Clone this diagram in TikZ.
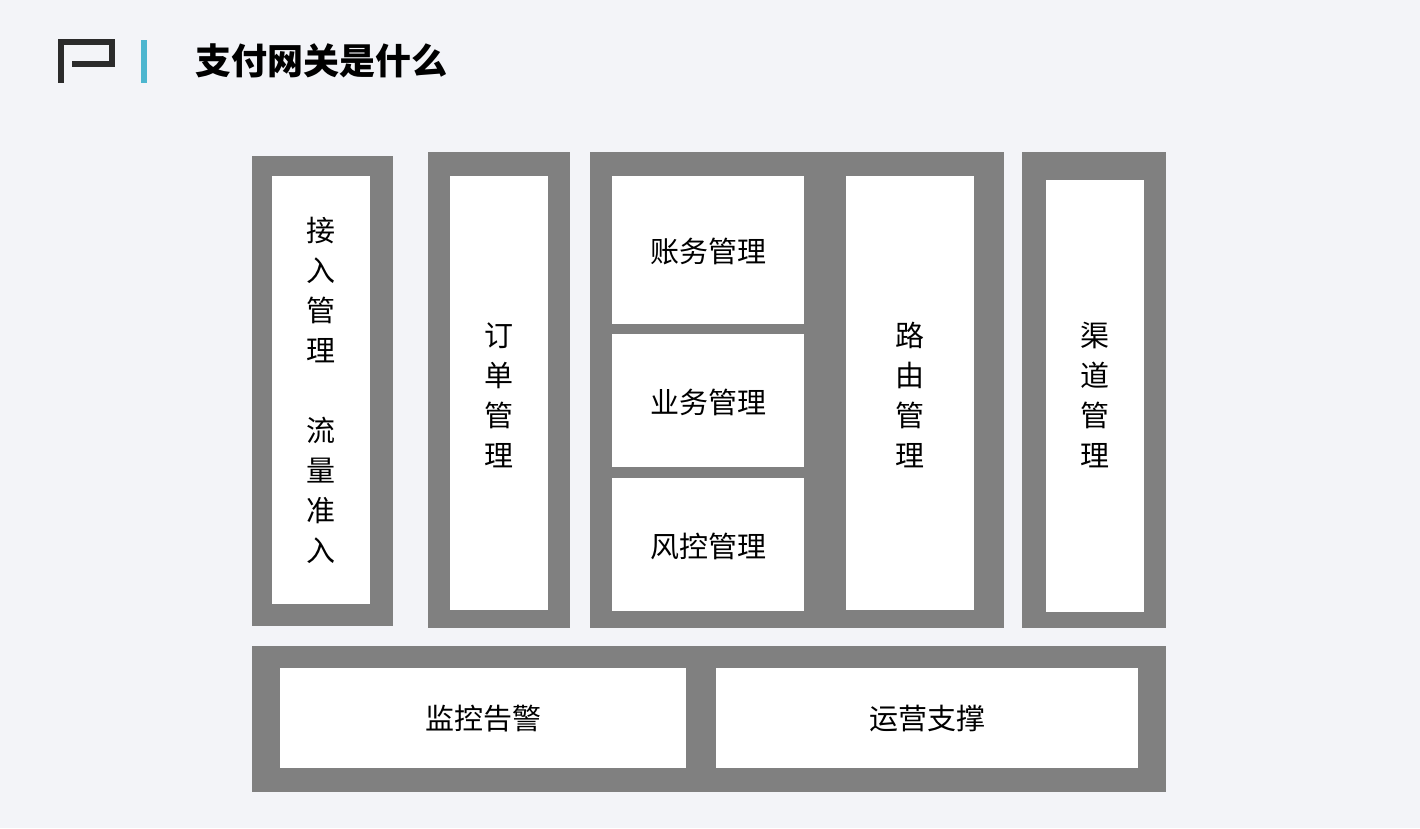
\documentclass[tikz,border=0pt]{standalone}
\usepackage{fontspec}
\setmainfont{Noto Sans CJK SC}
\usetikzlibrary{positioning}
\definecolor{bgc}{HTML}{F3F4F8}
\definecolor{frame}{HTML}{808080}
\definecolor{logoc}{HTML}{2B2B2B}
\definecolor{barc}{HTML}{4DB6CF}
\tikzset{
	outer/.style={fill=frame},
	inner/.style={fill=white},
	lbl/.style={font=\fontsize{29}{40}\selectfont,align=center,inner sep=0pt}
}
\begin{document}
\begin{tikzpicture}[x=1pt,y=-1pt]
	\fill[bgc] (0,0) rectangle (1420,828);
	\useasboundingbox (0,0) rectangle (1420,828);
	% header
	\draw[logoc,line width=6pt] (72,64) -- (112,64) -- (112,42) -- (61,42) -- (61,83);
	\fill[barc] (141,40) rectangle (147,83);
	\node[anchor=west,font=\bfseries\fontsize{36}{40}\selectfont] (title) at (192,61) {支付网关是什么};
	% frames
	\fill[outer] (252,156) rectangle (393,626);
	\fill[outer] (428,152) rectangle (570,628);
	\fill[outer] (590,152) rectangle (1004,628);
	\fill[outer] (1022,152) rectangle (1166,628);
	\fill[outer] (252,646) rectangle (1166,792);
	% white boxes
	\fill[inner] (272,176) rectangle (370,604);
	\fill[inner] (450,176) rectangle (548,610);
	\fill[inner] (612,176) rectangle (804,324);
	\fill[inner] (612,334) rectangle (804,467);
	\fill[inner] (612,478) rectangle (804,611);
	\fill[inner] (846,176) rectangle (974,610);
	\fill[inner] (1046,180) rectangle (1144,612);
	\fill[inner] (280,668) rectangle (686,768);
	\fill[inner] (716,668) rectangle (1138,768);
	% labels
	\node[lbl] (access) at (321,390) {接\\入\\管\\理\\[40pt]流\\量\\准\\入};
	\node[lbl] (order) at (499,395) {订\\单\\管\\理};
	\node[lbl] (account) at (708,251) {账务管理};
	\node[lbl] (biz) at (708,402) {业务管理};
	\node[lbl] (risk) at (708,546) {风控管理};
	\node[lbl] (route) at (910,395) {路\\由\\管\\理};
	\node[lbl] (channel) at (1095,395) {渠\\道\\管\\理};
	\node[lbl] (monitor) at (483,719) {监控告警};
	\node[lbl] (ops) at (927,719) {运营支撑};
\end{tikzpicture}
\end{document}
